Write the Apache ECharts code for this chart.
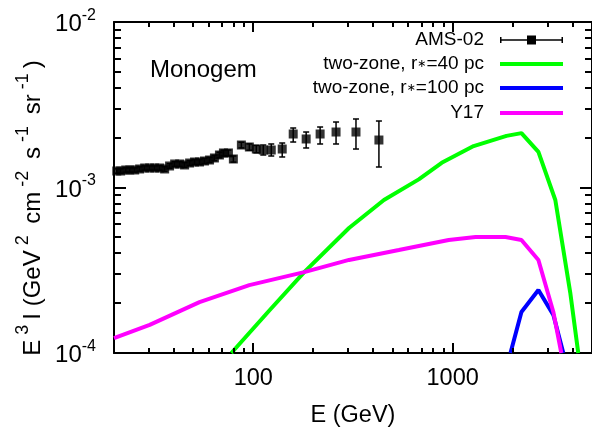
<!DOCTYPE html>
<html>
<head>
<meta charset="utf-8">
<script src="https://cdn.jsdelivr.net/npm/echarts@6/dist/echarts.min.js"></script>
<style>
  html, body { margin: 0; padding: 0; background: #fff; }
  #chart { width: 592px; height: 428px; }
</style>
</head>
<body>
<div id="chart"></div>
<script>
// AMS-02 measurements: energy (GeV), E^3 I and error-bar bounds (GeV^2 cm^-2 s^-1 sr^-1)
const amsE = [20.65, 21.6, 22.9, 24.0, 25.4, 26.9, 28.5, 30.2, 32.0, 33.9, 35.9, 38.0, 40.3, 42.7,
  45.2, 47.9, 50.7, 53.7, 56.9, 60.3, 63.8, 67.6, 70.8, 75.0, 79.4, 87.1, 95.5, 103.5, 112.2,
  123.0, 139.6, 158.5, 184.1, 216.3, 260.0, 327.3, 426.6];
const amsFlux = [1.258e-3, 1.258e-3, 1.276e-3, 1.276e-3, 1.276e-3, 1.294e-3, 1.312e-3, 1.312e-3,
  1.312e-3, 1.312e-3, 1.294e-3, 1.349e-3, 1.387e-3, 1.387e-3, 1.368e-3, 1.406e-3, 1.426e-3,
  1.426e-3, 1.446e-3, 1.466e-3, 1.508e-3, 1.572e-3, 1.617e-3, 1.617e-3, 1.487e-3, 1.806e-3,
  1.757e-3, 1.708e-3, 1.685e-3, 1.685e-3, 1.708e-3, 2.105e-3, 1.964e-3, 2.105e-3, 2.164e-3,
  2.164e-3, 1.936e-3];
const amsLow = [1.220e-3, 1.220e-3, 1.238e-3, 1.238e-3, 1.238e-3, 1.255e-3, 1.273e-3, 1.273e-3,
  1.273e-3, 1.270e-3, 1.252e-3, 1.305e-3, 1.342e-3, 1.341e-3, 1.322e-3, 1.358e-3, 1.377e-3,
  1.376e-3, 1.394e-3, 1.412e-3, 1.451e-3, 1.511e-3, 1.552e-3, 1.550e-3, 1.424e-3, 1.735e-3,
  1.680e-3, 1.620e-3, 1.572e-3, 1.550e-3, 1.529e-3, 1.883e-3, 1.733e-3, 1.832e-3, 1.832e-3,
  1.708e-3, 1.330e-3];
const amsHigh = [1.296e-3, 1.296e-3, 1.314e-3, 1.314e-3, 1.314e-3, 1.333e-3, 1.351e-3, 1.351e-3,
  1.351e-3, 1.355e-3, 1.336e-3, 1.393e-3, 1.432e-3, 1.433e-3, 1.414e-3, 1.454e-3, 1.475e-3,
  1.476e-3, 1.498e-3, 1.520e-3, 1.565e-3, 1.633e-3, 1.682e-3, 1.684e-3, 1.550e-3, 1.877e-3,
  1.834e-3, 1.796e-3, 1.806e-3, 1.832e-3, 1.857e-3, 2.288e-3, 2.164e-3, 2.320e-3, 2.487e-3,
  2.594e-3, 2.522e-3];

// two-zone diffusion model, r* = 40 pc
const zone40E = [77.6, 120, 180, 302, 452, 676, 881, 1274, 1862, 2213, 2692, 3273, 3890, 4266];
const zone40Flux = [1.00e-4, 1.80e-4, 3.08e-4, 5.69e-4, 8.40e-4, 1.12e-3, 1.41e-3, 1.78e-3,
  2.05e-3, 2.13e-3, 1.64e-3, 8.40e-4, 2.31e-4, 1.00e-4];

// two-zone diffusion model, r* = 100 pc
const zone100E = [1950, 2213, 2692, 3199, 3589];
const zone100Flux = [1.00e-4, 1.77e-4, 2.40e-4, 1.70e-4, 1.00e-4];

// Y17 model
const y17E = [20, 30.2, 53.7, 95.5, 180, 302, 537, 955, 1303, 1841, 2213, 2692, 3199, 3508];
const y17Flux = [1.23e-4, 1.48e-4, 2.03e-4, 2.57e-4, 3.08e-4, 3.65e-4, 4.19e-4, 4.82e-4,
  5.02e-4, 5.02e-4, 4.82e-4, 3.65e-4, 1.77e-4, 1.00e-4];

// tick positions
const xMajor = [100, 1000];
const xMinor = [30, 40, 50, 60, 70, 80, 90, 200, 300, 400, 500, 600, 700, 800, 900, 2000, 3000, 4000];
const yMajor = [1e-4, 1e-3, 1e-2];
const yMinor = [2e-4, 3e-4, 4e-4, 5e-4, 6e-4, 7e-4, 8e-4, 9e-4,
  2e-3, 3e-3, 4e-3, 5e-3, 6e-3, 7e-3, 8e-3, 9e-3];

const seriesNames = ['AMS-02', 'two-zone, r*=40 pc', 'two-zone, r*=100 pc', 'Y17'];
const seriesColors = ['#000000', '#00ff00', '#0000ff', '#ff00ff'];

const FONT = '"Liberation Sans", Arial, Helvetica, sans-serif';
const X_MIN = 20, X_MAX = 5000, Y_MIN = 1e-4, Y_MAX = 1e-2;

function xAxisDef(position, withLabels) {
  return {
    type: 'log', logBase: 10, min: X_MIN, max: X_MAX, position: position,
    axisLine: { show: true, onZero: false, lineStyle: { color: '#000', width: 2 } },
    axisTick: { show: false },
    axisLabel: withLabels ? {
      show: true, customValues: xMajor, margin: 14, color: '#000',
      fontSize: 23.5, fontFamily: FONT,
      formatter: v => String(Math.round(v))
    } : { show: false },
    splitLine: { show: false }
  };
}

function yAxisDef(position, withLabels) {
  return {
    type: 'log', logBase: 10, min: Y_MIN, max: Y_MAX, position: position,
    axisLine: { show: true, onZero: false, lineStyle: { color: '#000', width: 2 } },
    axisTick: { show: false },
    axisLabel: withLabels ? {
      show: true, customValues: yMajor, margin: 18, color: '#000', fontFamily: FONT,
      formatter: v => '{b|10}{s|' + Math.round(Math.log10(v)) + '}',
      rich: {
        b: { fontSize: 24, fontFamily: FONT, color: '#000', padding: [5, 0, 0, 0], verticalAlign: 'bottom' },
        s: { fontSize: 16, fontFamily: FONT, color: '#000', verticalAlign: 'top' }
      }
    } : { show: false },
    splitLine: { show: false }
  };
}

// Inward tick marks on both sides of the frame, drawn as filled bars through the axis scales.
function tickSeries(values, dim, len) {
  return {
    name: seriesNames[0], type: 'custom', xAxisIndex: 0, yAxisIndex: 0, clip: false, z: 5,
    itemStyle: { color: '#000' },
    data: values.map(v => dim === 'x' ? [v, 1e-3] : [100, v]),
    encode: { x: 0, y: 1 },
    renderItem: function (params, api) {
      const style = { fill: '#000' };
      if (dim === 'x') {
        const a = api.coord([api.value(0), Y_MIN]);
        const b = api.coord([api.value(0), Y_MAX]);
        const x = Math.round(a[0]) - 1;
        return { type: 'group', children: [
          { type: 'rect', shape: { x: x, y: a[1] - len, width: 2, height: len }, style: style },
          { type: 'rect', shape: { x: x, y: b[1], width: 2, height: len }, style: style }
        ] };
      }
      const a = api.coord([X_MIN, api.value(1)]);
      const b = api.coord([X_MAX, api.value(1)]);
      const y = Math.round(a[1]) - 1;
      return { type: 'group', children: [
        { type: 'rect', shape: { x: a[0], y: y, width: len, height: 2 }, style: style },
        { type: 'rect', shape: { x: b[0] - len, y: y, width: len, height: 2 }, style: style }
      ] };
    }
  };
}

function legendDef(i, rowY, icon, h) {
  return {
    data: [{ name: seriesNames[i], icon: icon, itemStyle: { color: seriesColors[i], borderWidth: 0 } }],
    right: 29, top: rowY - 9.5, padding: 0, align: 'right',
    itemWidth: 63, itemHeight: h, selectedMode: false,
    formatter: name => name.replace('*', '{st|\u2217}'),
    textStyle: {
      fontSize: 19, fontFamily: FONT, color: '#000', padding: [0, 11, 0, 0],
      rich: { st: { fontSize: 11, fontFamily: '"DejaVu Sans", sans-serif', color: '#000' } }
    }
  };
}

// error bar with caps and a square marker for the AMS-02 legend entry
const amsIcon = 'path://M0,2h1.5v6h-1.5z M0,4.25h63v1.5h-63z M27,0.5h9v9h-9z M61.5,2h1.5v6h-1.5z M0,0h0.01v10h-0.01z';

const chart = echarts.init(document.getElementById('chart'), null, { renderer: 'canvas' });

const option = {
  backgroundColor: '#ffffff',
  animation: false,
  grid: { left: 114, right: -1, top: 22, bottom: 75, containLabel: false },
  xAxis: [xAxisDef('bottom', true), xAxisDef('top', false)],
  yAxis: [yAxisDef('left', true), yAxisDef('right', false)],
  legend: [
    legendDef(0, 40, amsIcon, 10),
    legendDef(1, 64, 'rect', 4),
    legendDef(2, 88, 'rect', 4),
    legendDef(3, 113, 'rect', 4)
  ],
  graphic: [
    {
      type: 'text', left: 150, top: 58,
      style: { text: 'Monogem', fontSize: 24, fontFamily: FONT, fill: '#000' }
    },
    {
      type: 'text', x: 353, y: 416,
      style: { text: 'E (GeV)', fontSize: 23.5, fontFamily: FONT, fill: '#000',
        align: 'center', verticalAlign: 'middle' }
    },
    {
      type: 'text', x: 30, y: 208, rotation: Math.PI / 2,
      style: {
        text: '{m|E}{u|3}{m|I (GeV}{u|2}{m| cm}{u|-2}{m| s}{u|-1}{m| sr}{u|-1}{m|)}',
        align: 'center', verticalAlign: 'middle',
        rich: {
          m: { fontSize: 24, fontFamily: FONT, fill: '#000', padding: [7, 0, 0, 0], verticalAlign: 'bottom' },
          u: { fontSize: 18, fontFamily: FONT, fill: '#000', padding: [0, 5, 0, 5], verticalAlign: 'top' }
        }
      }
    }
  ],
  series: [
    {
      name: seriesNames[0], type: 'custom', xAxisIndex: 0, yAxisIndex: 0,
      itemStyle: { color: '#000' },
      data: amsE.map((e, i) => [e, amsLow[i], amsHigh[i]]),
      encode: { x: 0, y: [1, 2] },
      renderItem: function (params, api) {
        const lo = api.coord([api.value(0), api.value(1)]);
        const hi = api.coord([api.value(0), api.value(2)]);
        const cap = 3;
        const style = { stroke: '#000', lineWidth: 1.5 };
        return {
          type: 'group',
          children: [
            { type: 'line', shape: { x1: lo[0], y1: lo[1], x2: hi[0], y2: hi[1] }, style: style },
            { type: 'line', shape: { x1: lo[0] - cap, y1: lo[1], x2: lo[0] + cap, y2: lo[1] }, style: style },
            { type: 'line', shape: { x1: hi[0] - cap, y1: hi[1], x2: hi[0] + cap, y2: hi[1] }, style: style }
          ]
        };
      }
    },
    {
      name: seriesNames[0], type: 'scatter', xAxisIndex: 0, yAxisIndex: 0,
      symbol: 'rect', symbolSize: 9, itemStyle: { color: '#000' },
      data: amsE.map((e, i) => [e, amsFlux[i]])
    },
    {
      name: seriesNames[1], type: 'line', xAxisIndex: 0, yAxisIndex: 0,
      symbol: 'none', lineStyle: { color: seriesColors[1], width: 4 }, itemStyle: { color: seriesColors[1] },
      data: zone40E.map((e, i) => [e, zone40Flux[i]])
    },
    {
      name: seriesNames[2], type: 'line', xAxisIndex: 0, yAxisIndex: 0,
      symbol: 'none', lineStyle: { color: seriesColors[2], width: 4 }, itemStyle: { color: seriesColors[2] },
      data: zone100E.map((e, i) => [e, zone100Flux[i]])
    },
    {
      name: seriesNames[3], type: 'line', xAxisIndex: 0, yAxisIndex: 0,
      symbol: 'none', lineStyle: { color: seriesColors[3], width: 4 }, itemStyle: { color: seriesColors[3] },
      data: y17E.map((e, i) => [e, y17Flux[i]])
    },
    tickSeries(xMajor, 'x', 10),
    tickSeries(xMinor, 'x', 5),
    tickSeries(yMajor, 'y', 12),
    tickSeries(yMinor, 'y', 7)
  ]
};

chart.setOption(option);
</script>
</body>
</html>
